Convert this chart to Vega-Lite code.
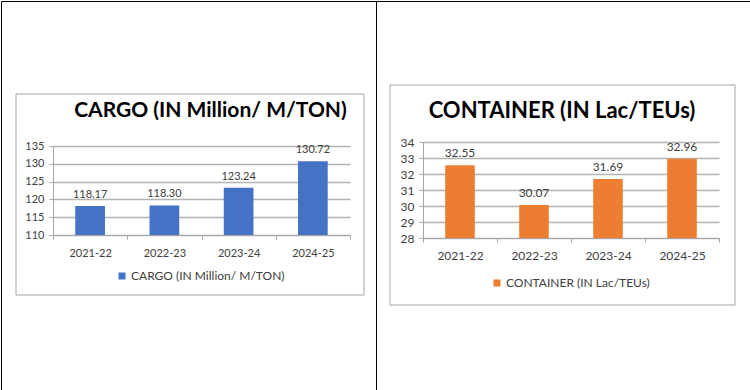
{
  "$schema": "https://vega.github.io/schema/vega-lite/v6.json",
  "padding": 0,
  "background": "white",
  "spacing": 0,
  "bounds": "flush",
  "datasets": {
    "cargo": [
      {"year": "2021-22", "value": 118.17, "series": "CARGO (IN Million/ M/TON)"},
      {"year": "2022-23", "value": 118.30, "series": "CARGO (IN Million/ M/TON)"},
      {"year": "2023-24", "value": 123.24, "series": "CARGO (IN Million/ M/TON)"},
      {"year": "2024-25", "value": 130.72, "series": "CARGO (IN Million/ M/TON)"}
    ],
    "container": [
      {"year": "2021-22", "value": 32.55, "series": "CONTAINER (IN Lac/TEUs)"},
      {"year": "2022-23", "value": 30.07, "series": "CONTAINER (IN Lac/TEUs)"},
      {"year": "2023-24", "value": 31.69, "series": "CONTAINER (IN Lac/TEUs)"},
      {"year": "2024-25", "value": 32.96, "series": "CONTAINER (IN Lac/TEUs)"}
    ]
  },
  "config": {
    "font": "Lato",
    "view": {"stroke": "#000000", "strokeWidth": 1},
    "axis": {"labelFont": "Lato", "labelColor": "#404040", "domainColor": "#a6a6a6", "tickColor": "#a6a6a6", "gridColor": "#b3b3b3"},
    "legend": {"labelFont": "Lato"}
  },
  "hconcat": [
    {
      "width": 375,
      "height": 389,
      "title": {"text": "CARGO (IN Million/ M/TON)", "fontSize": 21, "font": "Lato", "fontWeight": "bold", "color": "#000000", "anchor": "middle", "frame": "group", "offset": -137, "baseline": "alphabetic", "dx": 22},
      "layer": [
        {
          "data": {"name": "cargo"},
          "layer": [
            {
              "mark": {"type": "bar", "width": {"band": 0.4}},
              "encoding": {
                "x": {"field": "year", "type": "nominal", "sort": null,
                  "scale": {"range": [52, 349], "paddingInner": 0, "paddingOuter": 0},
                  "axis": {"orient": "bottom", "offset": -155, "tickBand": "extent", "tickSize": 4, "labelAngle": 0, "labelPadding": 8, "labelFontSize": 11, "title": null, "grid": false}},
                "y": {"field": "value", "type": "quantitative",
                  "scale": {"domain": [110, 135], "range": [234, 145], "nice": false, "zero": false},
                  "axis": {"orient": "left", "offset": -52, "values": [110, 115, 120, 125, 130, 135], "format": "d", "grid": true, "gridWidth": 1.5, "tickSize": 4, "labelPadding": 5, "labelFontSize": 11, "title": null}},
                "y2": {"datum": 110},
                "color": {"field": "series", "type": "nominal", "scale": {"range": ["#4472C4"]},
                  "legend": {"orient": "none", "legendX": 115, "legendY": 269, "direction": "horizontal", "title": null, "symbolType": "square", "symbolSize": 49, "symbolStrokeWidth": 0, "labelFontSize": 12, "labelColor": "#404040", "labelOffset": 3, "padding": 0, "labelLimit": 300}}
              }
            },
            {
              "mark": {"type": "text", "dy": -8, "baseline": "alphabetic", "fontSize": 11, "color": "#404040"},
              "encoding": {
                "x": {"field": "year", "type": "nominal", "sort": null},
                "y": {"field": "value", "type": "quantitative"},
                "text": {"field": "value", "type": "quantitative", "format": ".2f"}
              }
            }
          ]
        },
        {
          "data": {"name": "cargo"},
          "transform": [{"aggregate": [{"op": "count", "as": "n"}]}],
          "mark": {"type": "rect", "fill": "transparent", "stroke": "#a6a6a6", "strokeWidth": 1},
          "encoding": {
            "x": {"datum": 0, "type": "quantitative", "scale": {"domain": [0, 1], "range": [15, 363]}, "axis": null},
            "x2": {"datum": 1},
            "y": {"datum": 0, "type": "quantitative", "scale": {"domain": [0, 1], "range": [294, 93]}, "axis": null},
            "y2": {"datum": 1}
          }
        }
      ],
      "resolve": {"scale": {"x": "independent", "y": "independent"}, "axis": {"x": "independent", "y": "independent"}}
    },
    {
      "width": 374,
      "height": 389,
      "title": {"text": "CONTAINER (IN Lac/TEUs)", "fontSize": 22, "font": "Lato", "fontWeight": "bold", "color": "#000000", "anchor": "middle", "frame": "group", "offset": -139, "baseline": "alphabetic", "dx": -1},
      "layer": [
        {
          "data": {"name": "container"},
          "layer": [
            {
              "mark": {"type": "bar", "width": {"band": 0.4}},
              "encoding": {
                "x": {"field": "year", "type": "nominal", "sort": null,
                  "scale": {"range": [47, 343], "paddingInner": 0, "paddingOuter": 0},
                  "axis": {"orient": "bottom", "offset": -152, "tickBand": "extent", "tickSize": 4, "labelAngle": 0, "labelPadding": 8, "labelFontSize": 12, "title": null, "grid": false}},
                "y": {"field": "value", "type": "quantitative",
                  "scale": {"domain": [28, 34], "range": [237, 141], "nice": false, "zero": false},
                  "axis": {"orient": "left", "offset": -47, "values": [28, 29, 30, 31, 32, 33, 34], "format": "d", "grid": true, "gridWidth": 1.5, "tickSize": 4, "labelPadding": 5, "labelFontSize": 12, "title": null}},
                "y2": {"datum": 28},
                "color": {"field": "series", "type": "nominal", "scale": {"range": ["#ED7D31"]},
                  "legend": {"orient": "none", "legendX": 115, "legendY": 276, "direction": "horizontal", "title": null, "symbolType": "square", "symbolSize": 49, "symbolStrokeWidth": 0, "labelFontSize": 12, "labelColor": "#404040", "labelOffset": 3, "padding": 0, "labelLimit": 300}}
              }
            },
            {
              "mark": {"type": "text", "dy": -8, "baseline": "alphabetic", "fontSize": 12, "color": "#404040"},
              "encoding": {
                "x": {"field": "year", "type": "nominal", "sort": null},
                "y": {"field": "value", "type": "quantitative"},
                "text": {"field": "value", "type": "quantitative", "format": ".2f"}
              }
            }
          ]
        },
        {
          "data": {"name": "container"},
          "transform": [{"aggregate": [{"op": "count", "as": "n"}]}],
          "mark": {"type": "rect", "fill": "transparent", "stroke": "#a6a6a6", "strokeWidth": 1},
          "encoding": {
            "x": {"datum": 0, "type": "quantitative", "scale": {"domain": [0, 1], "range": [14, 359]}, "axis": null},
            "x2": {"datum": 1},
            "y": {"datum": 0, "type": "quantitative", "scale": {"domain": [0, 1], "range": [304, 84]}, "axis": null},
            "y2": {"datum": 1}
          }
        }
      ],
      "resolve": {"scale": {"x": "independent", "y": "independent"}, "axis": {"x": "independent", "y": "independent"}}
    }
  ],
  "resolve": {"scale": {"color": "independent"}, "legend": {"color": "independent"}}
}
